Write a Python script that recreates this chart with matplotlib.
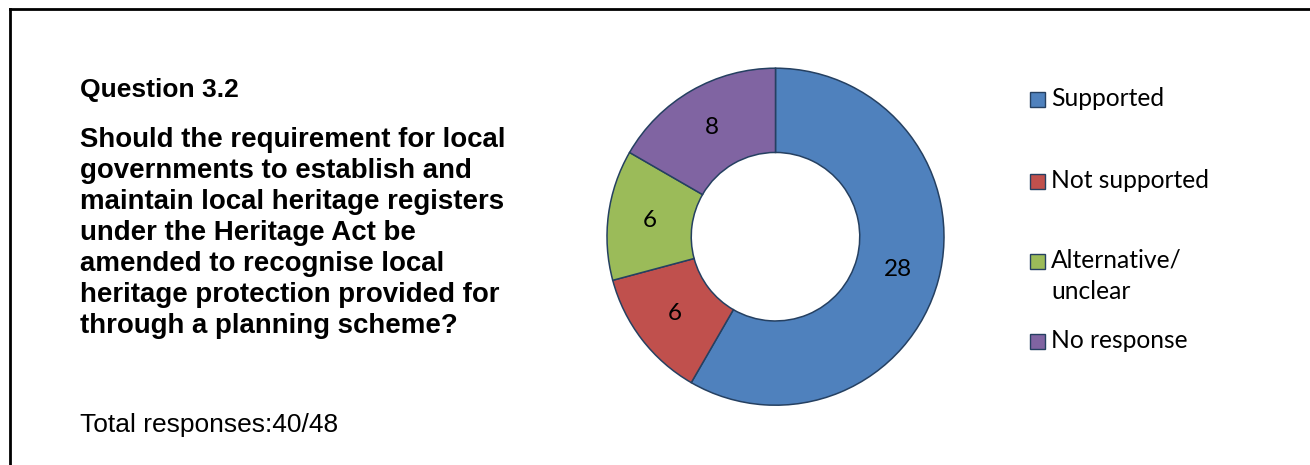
"""Donut chart of responses to consultation question 3.2."""

import matplotlib

matplotlib.use("Agg")
import matplotlib.pyplot as plt
from matplotlib.lines import Line2D
from matplotlib.patches import Rectangle

W, H = 1310, 465

categories = ["Supported", "Not supported", "Alternative/\nunclear", "No response"]
counts = [28, 6, 6, 8]
colors = ["#4f81bd", "#c0504d", "#9bbb59", "#8064a2"]

question_no = "Question 3.2"
question_lines = [
    "Should the requirement for local",
    "governments to establish and",
    "maintain local heritage registers",
    "under the Heritage Act be",
    "amended to recognise local",
    "heritage protection provided for",
    "through a planning scheme?",
]
total_text = "Total responses:40/48"

EDGE = "#254061"
SANS = "Liberation Sans"
LABEL_FONT = "Lato"


def fx(px):
    return px / W


def fy(py):
    return 1 - py / H


def main() -> None:
    fig = plt.figure(figsize=(W / 100, H / 100), dpi=100)

    # frame lines along the top and left
    fig.add_artist(Line2D([fx(9.5), fx(W + 5)], [fy(9.5), fy(9.5)],
                          color="black", lw=2.0, transform=fig.transFigure))
    fig.add_artist(Line2D([fx(9.5), fx(9.5)], [fy(9.5), fy(H + 5)],
                          color="black", lw=2.0, transform=fig.transFigure))

    # question text
    fig.text(fx(80), fy(96.5), question_no, fontsize=19, fontweight="bold",
             family=SANS, va="baseline")
    for i, line in enumerate(question_lines):
        fig.text(fx(80), fy(146.8 + i * 31.1), line, fontsize=19.9,
                 fontweight="bold", family=SANS, va="baseline")
    fig.text(fx(80), fy(431.5), total_text, fontsize=19, family=SANS,
             va="baseline")

    # donut
    cx, cy, r = 775.5, 236.7, 168.5
    ax = fig.add_axes([fx(cx - r), fy(cy + r), 2 * r / W, 2 * r / H])
    wedges, _texts, autotexts = ax.pie(
        counts,
        colors=colors,
        startangle=90,
        counterclock=False,
        radius=1.0,
        autopct=lambda p: f"{round(p * sum(counts) / 100):d}",
        pctdistance=0.75,
        wedgeprops=dict(width=0.5, edgecolor=EDGE, linewidth=1.1),
        textprops=dict(fontsize=17.5, family=LABEL_FONT, color="black"),
    )
    ax.set_xlim(-1, 1)
    ax.set_ylim(-1, 1)
    ax.set_aspect("auto")
    ax.axis("off")
    for w in wedges:
        w.set_clip_on(False)

    # legend
    marker_y = [100, 181, 261, 341]
    for label, color, my in zip(categories, colors, marker_y):
        fig.add_artist(Rectangle((fx(1030), fy(my + 7.5)), 15 / W, 15 / H,
                                 facecolor=color, edgecolor=EDGE, lw=1.0,
                                 transform=fig.transFigure))
        for j, part in enumerate(label.split("\n")):
            fig.text(fx(1051), fy(my + 6.5 + j * 31), part, fontsize=17.7,
                     family=LABEL_FONT, va="baseline")

    fig.savefig("out.png", dpi=100, facecolor="white")


if __name__ == "__main__":
    main()
